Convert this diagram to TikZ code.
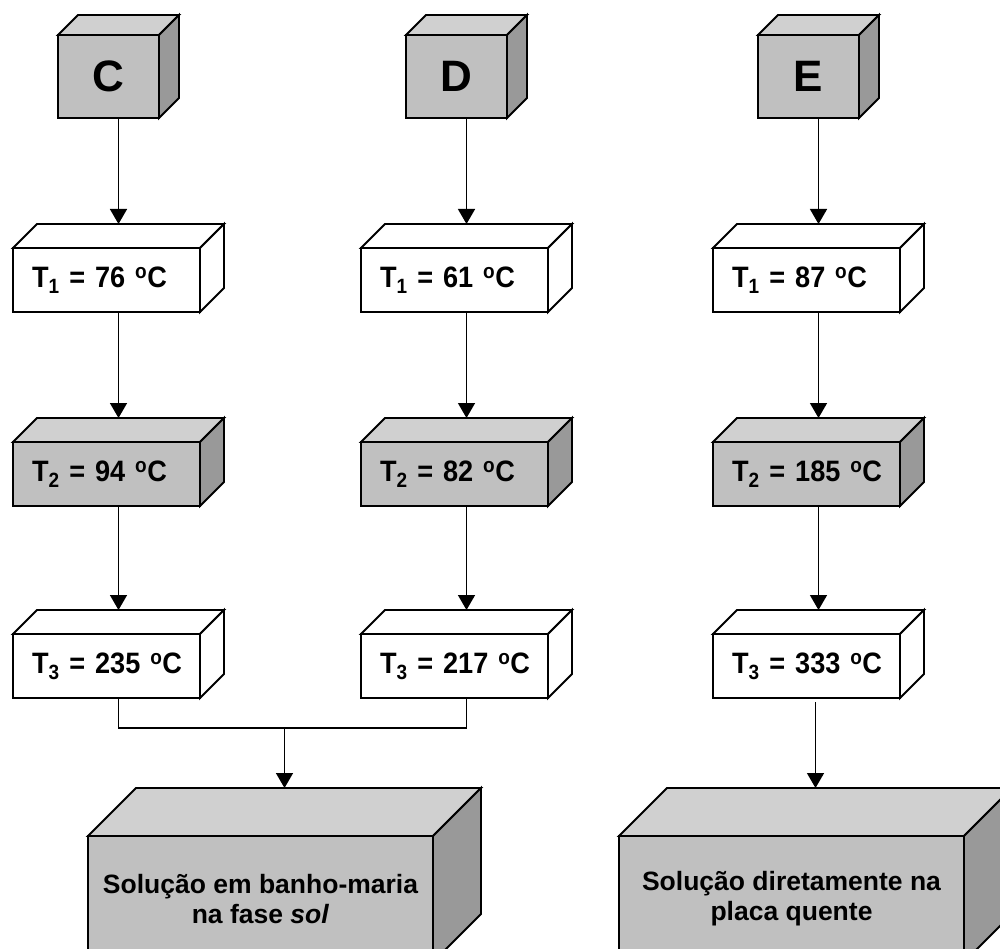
\documentclass[tikz,border=0pt]{standalone}
\usepackage{fontspec}
\setmainfont{Liberation Sans}
\newfontfamily\condsans[FakeStretch=0.92]{Liberation Sans}
\usetikzlibrary{calc,arrows.meta}
\definecolor{frontg}{RGB}{192,192,192}
\definecolor{topg}{RGB}{208,208,208}
\definecolor{sideg}{RGB}{153,153,153}
\tikzset{
 face/.style={draw=black, line width=1.9pt, line join=miter},
 frontbox/.style={face, outer sep=0pt, inner sep=0pt, anchor=north west},
 cubebox/.style={frontbox, fill=frontg, minimum width=101pt, minimum height=83pt, font=\fontsize{44}{44}\selectfont\bfseries},
 tempbox/.style={frontbox, minimum width=187pt, minimum height=64pt, inner xsep=19pt, text width=149pt, align=left, font=\condsans\fontsize{29.5}{30}\selectfont\bfseries},
 greybox/.style={fill=frontg},
 whitebox/.style={fill=white},
 bigbox/.style={frontbox, fill=frontg, minimum width=345pt, minimum height=126pt, align=center, font=\fontsize{26.5}{30}\selectfont\bfseries},
 conn/.style={line width=1.5pt},
 arr/.style={conn, -{Triangle[width=17pt,length=15pt]}},
}
\newcommand\boxfaces[4]{%
 \filldraw[face, fill=#3] (#1.north west) -- ++(#2,-#2) -- ($(#1.north east)+(#2,-#2)$) -- (#1.north east) -- cycle;
 \filldraw[face, fill=#4] (#1.north east) -- ++(#2,-#2) -- ($(#1.south east)+(#2,-#2)$) -- (#1.south east) -- cycle;
}
\newcommand\degC{\textsuperscript{o}C}
\begin{document}
\begin{tikzpicture}[x=1pt,y=-1pt]
\useasboundingbox (0,0) rectangle (1000,949);
\clip (0,0) rectangle (1000,949);
% column C
\node[cubebox] (c0) at (58,35) {C};
\boxfaces{c0}{20}{topg}{sideg}
\node[tempbox, whitebox] (c1) at (13,248) {T\textsubscript{1}~=~76~\degC};
\boxfaces{c1}{24}{white}{white}
\node[tempbox, greybox] (c2) at (13,442) {T\textsubscript{2}~=~94~\degC};
\boxfaces{c2}{24}{topg}{sideg}
\node[tempbox, whitebox] (c3) at (13,634) {T\textsubscript{3}~=~235~\degC};
\boxfaces{c3}{24}{white}{white}
% column D
\node[cubebox] (d0) at (406,35) {D};
\boxfaces{d0}{20}{topg}{sideg}
\node[tempbox, whitebox] (d1) at (361,248) {T\textsubscript{1}~=~61~\degC};
\boxfaces{d1}{24}{white}{white}
\node[tempbox, greybox] (d2) at (361,442) {T\textsubscript{2}~=~82~\degC};
\boxfaces{d2}{24}{topg}{sideg}
\node[tempbox, whitebox] (d3) at (361,634) {T\textsubscript{3}~=~217~\degC};
\boxfaces{d3}{24}{white}{white}
% column E
\node[cubebox] (e0) at (758,35) {E};
\boxfaces{e0}{20}{topg}{sideg}
\node[tempbox, whitebox] (e1) at (713,248) {T\textsubscript{1}~=~87~\degC};
\boxfaces{e1}{24}{white}{white}
\node[tempbox, greybox] (e2) at (713,442) {T\textsubscript{2}~=~185~\degC};
\boxfaces{e2}{24}{topg}{sideg}
\node[tempbox, whitebox] (e3) at (713,634) {T\textsubscript{3}~=~333~\degC};
\boxfaces{e3}{24}{white}{white}
% big boxes
\node[bigbox] (b1) at (88,836) {Solução em banho-maria\\na fase \textit{sol}};
\boxfaces{b1}{48}{topg}{sideg}
\node[bigbox] (b2) at (619,836) {Solução diretamente na\\placa quente};
\boxfaces{b2}{48}{topg}{sideg}
% arrow targets on top back edges
\foreach \n in {c1,c2,c3,d1,d2,d3,e1,e2,e3}{
  \coordinate (\n t) at ($(\n.north)+(12,-24)$);
}
\coordinate (b1t) at ($(b1.north)+(24,-48)$);
\coordinate (b2t) at ($(b2.north)+(24,-48)$);
% connectors
\foreach \a/\b in {c0/c1,c1/c2,c2/c3,d0/d1,d1/d2,d2/d3,e0/e1,e1/e2,e2/e3}{
  \draw[arr] (\a.south -| \b t) -- (\b t);
}
\coordinate (jn) at ($(c3.south)+(0,30)$);
\draw[conn] (c3.south -| c3t) -- (c3t |- jn) -- (d3t |- jn) -- (d3.south -| d3t);
\draw[arr] (b1t |- jn) -- (b1t);
\draw[arr, shorten <=4pt] (e3.south -| b2t) -- (b2t);
\end{tikzpicture}
\end{document}
